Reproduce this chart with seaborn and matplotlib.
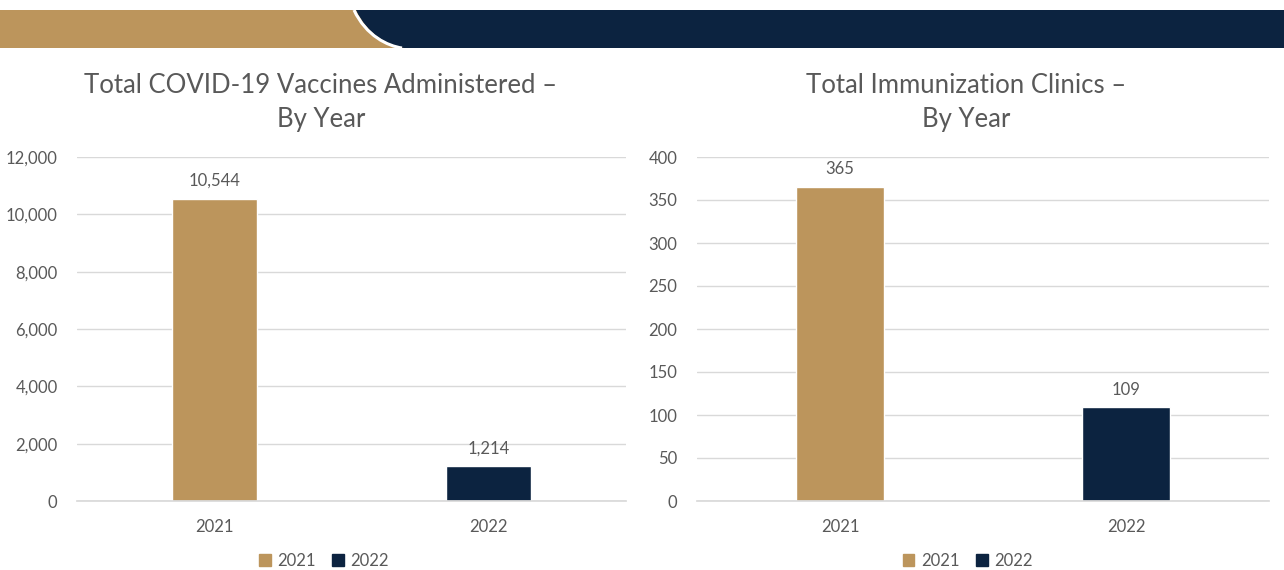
import matplotlib
matplotlib.use("Agg")
import matplotlib.pyplot as plt
from matplotlib.patches import Rectangle, PathPatch
from matplotlib.path import Path
import seaborn as sns
import pandas as pd

# Data
years = ["2021", "2022"]
vaccines = [10544, 1214]
clinics = [365, 109]

TAN = "#bc955c"
NAVY = "#0c2340"
GREY = "#595959"
GRID = "#d9d9d9"

sns.set_theme(style="white")
plt.rcParams["font.family"] = ["Lato", "DejaVu Sans"]

W, H = 1284, 570
fig = plt.figure(figsize=(W / 100, H / 100), dpi=100)

# Header banner drawn in pixel coordinates
bg = fig.add_axes([0, 0, 1, 1], zorder=0)
bg.set_xlim(0, W)
bg.set_ylim(H, 0)
bg.axis("off")
bg.add_patch(Rectangle((0, 10), 420, 38, color=TAN, lw=0))
curve = Path(
    [(356, 10), (368, 36), (390, 46), (404, 48), (W, 48), (W, 10), (356, 10)],
    [Path.MOVETO, Path.CURVE4, Path.CURVE4, Path.CURVE4, Path.LINETO, Path.LINETO, Path.CLOSEPOLY],
)
bg.add_patch(PathPatch(curve, facecolor=NAVY, edgecolor="none"))
edge = Path([(354, 10), (366, 36), (388, 46), (402, 48)],
            [Path.MOVETO, Path.CURVE4, Path.CURVE4, Path.CURVE4])
bg.add_patch(PathPatch(edge, facecolor="none", edgecolor="white", lw=2.2))


def panel(rect, values, ymax, ystep, title, title_x, fmt, legend_x):
    ax = fig.add_axes(rect, zorder=1)
    ax.patch.set_alpha(0)
    df = pd.DataFrame({"year": years, "value": values})
    sns.barplot(data=df, x="year", y="value", hue="year",
                palette=[TAN, NAVY], dodge=False, width=0.31, saturation=1,
                legend=False, ax=ax, zorder=2)
    ax.set_xlim(-0.5, 1.5)
    ax.set_ylim(0, ymax)
    ax.set_yticks(range(0, ymax + 1, ystep))
    ax.set_yticklabels([fmt(v) for v in range(0, ymax + 1, ystep)])
    ax.yaxis.grid(True, color=GRID, lw=1)
    ax.set_axisbelow(True)
    for s in ax.spines.values():
        s.set_visible(False)
    ax.spines["bottom"].set_visible(True)
    ax.spines["bottom"].set_color(GRID)
    ax.tick_params(axis="both", length=0, colors=GREY, labelsize=12)
    ax.tick_params(axis="y", pad=14)
    ax.tick_params(axis="x", pad=13)
    ax.set_xlabel("")
    ax.set_ylabel("")
    for cont in ax.containers:
        ax.bar_label(cont, labels=[fmt(v) for v in cont.datavalues],
                     padding=7, color=GREY, fontsize=12)
    fig.text(title_x, 1 - 102.5 / H, title, ha="center", va="center",
             fontsize=18.5, color=GREY, linespacing=1.45)
    # legend
    handles = [Rectangle((0, 0), 1, 1, color=c) for c in (TAN, NAVY)]
    fig.legend(handles, years, loc="center", bbox_to_anchor=(legend_x, 1 - 561 / H),
               ncol=2, frameon=False, fontsize=12, handlelength=0.7,
               handleheight=0.7, handletextpad=0.4, columnspacing=1.0,
               labelcolor=GREY)
    return ax


panel([77 / W, 1 - 501 / H, 549 / W, 344 / H], vaccines, 12000, 2000,
      "Total COVID-19 Vaccines Administered –\nBy Year", 321 / W,
      lambda v: f"{int(v):,}", 324 / W)
panel([697 / W, 1 - 501 / H, 572 / W, 344 / H], clinics, 400, 50,
      "Total Immunization Clinics –\nBy Year", 966 / W,
      lambda v: f"{int(v):,}", 968 / W)

fig.savefig("out.png", dpi=100)
